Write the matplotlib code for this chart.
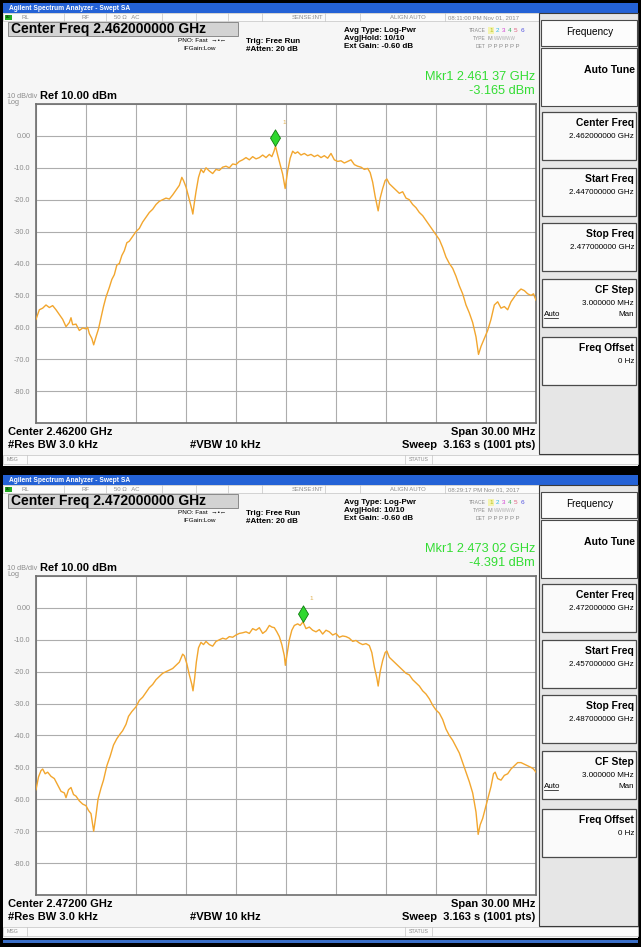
"""
Two Agilent swept-SA screenshots (2.462 / 2.472 GHz channels), stacked.
"""
import matplotlib
matplotlib.use("Agg")
import matplotlib.pyplot as plt
from matplotlib.patches import Rectangle
from matplotlib.path import Path
import numpy as np

plt.rcParams["font.family"] = ["Liberation Sans", "DejaVu Sans"]

W, H = 641, 947

# ----- trace 1 (center 2.462 GHz): offset from center in MHz, level in dBm -----
freq1_mhz = [
    -15.0, -14.8, -14.6, -14.4, -14.2, -14.0, -13.8, -13.6, -13.4, -13.2,
    -13.0, -12.9, -12.8, -12.6, -12.4, -12.2, -12.0, -11.9, -11.8, -11.65,
    -11.54, -11.4, -11.25, -11.1, -10.95, -10.8, -10.6, -10.45, -10.3, -10.15,
    -10.0, -9.85, -9.7, -9.55, -9.4, -9.2, -9.0, -8.8, -8.6, -8.4,
    -8.2, -8.0, -7.8, -7.6, -7.4, -7.2, -7.0, -6.8, -6.6, -6.4,
    -6.25, -6.15, -6.0, -5.8, -5.65, -5.59, -5.5, -5.4, -5.25, -5.1,
    -4.95, -4.8, -4.6, -4.4, -4.2, -4.0, -3.8, -3.6, -3.4, -3.2,
    -3.0, -2.8, -2.6, -2.4, -2.2, -2.0, -1.8, -1.6, -1.4, -1.2,
    -1.0, -0.85, -0.72, -0.63, -0.5, -0.35, -0.2, -0.05, 0.1, 0.25,
    0.4, 0.55, 0.7, 0.9, 1.1, 1.3, 1.5, 1.7, 1.9, 2.1,
    2.3, 2.5, 2.7, 2.9, 3.1, 3.3, 3.5, 3.7, 3.9, 4.1,
    4.3, 4.5, 4.7, 4.9, 5.05, 5.2, 5.35, 5.53, 5.65, 5.8,
    5.95, 6.05, 6.2, 6.4, 6.6, 6.8, 7.0, 7.2, 7.4, 7.6,
    7.8, 8.0, 8.2, 8.4, 8.6, 8.8, 9.0, 9.2, 9.4, 9.6,
    9.8, 10.0, 10.2, 10.4, 10.6, 10.8, 11.0, 11.2, 11.4, 11.55,
    11.7, 11.9, 12.1, 12.3, 12.5, 12.7, 12.9, 13.1, 13.3, 13.5,
    13.7, 13.9, 14.1, 14.3, 14.5, 14.7, 14.85, 15.0,
]
level1_dbm = [
    -57.5, -54.5, -54.0, -53.0, -53.8, -53.2, -54.5, -56.0, -57.5, -59.8,
    -58.5, -57.0, -59.2, -59.0, -61.0, -60.2, -60.5, -60.0, -62.0, -63.5,
    -65.5, -63.0, -60.5, -57.0, -53.5, -50.5, -47.5, -45.0, -43.5, -40.5,
    -40.0, -37.5, -36.0, -33.5, -33.0, -31.5, -30.0, -29.0, -27.0, -25.5,
    -24.0, -23.0, -21.5, -20.5, -20.0, -19.5, -19.8, -18.5, -17.0, -15.5,
    -13.0, -14.0, -16.0, -20.0, -23.0, -24.5, -21.0, -17.5, -13.0, -10.5,
    -11.5, -10.0, -11.0, -11.8, -10.5, -10.8, -9.8, -9.5, -10.0, -8.8,
    -9.0, -8.0, -7.5, -6.8, -7.5, -6.5, -7.2, -6.8, -6.0, -6.8,
    -5.8, -6.5, -4.8, -3.2, -6.0, -9.0, -12.0, -16.5, -11.0, -7.0,
    -4.8, -5.5, -5.0, -6.0, -5.5, -6.2, -5.8, -6.5, -6.0, -6.8,
    -6.2, -7.0, -5.5, -7.5, -8.0, -7.8, -8.5, -8.0, -7.5, -9.0,
    -9.5, -9.8, -10.5, -10.2, -11.5, -14.5, -19.0, -23.5, -19.5, -16.5,
    -14.0, -13.5, -15.0, -16.0, -17.0, -18.0, -17.5, -19.5, -20.0, -21.5,
    -22.5, -24.0, -25.0, -26.5, -28.0, -29.5, -31.0, -32.5, -35.0, -38.0,
    -40.0, -41.5, -44.0, -47.0, -49.5, -53.0, -55.5, -58.5, -63.0, -68.5,
    -66.0, -63.5, -61.0, -57.5, -53.0, -52.0, -54.0, -53.5, -54.5, -52.0,
    -50.5, -49.0, -48.0, -48.5, -49.5, -50.0, -49.5, -51.5,
]

# ----- trace 2 (center 2.472 GHz) -----
freq2_mhz = [
    -15.0, -14.85, -14.7, -14.6, -14.45, -14.3, -14.1, -13.9, -13.7, -13.5,
    -13.3, -13.2, -13.05, -12.9, -12.75, -12.6, -12.4, -12.2, -12.0, -11.85,
    -11.7, -11.54, -11.4, -11.28, -11.1, -10.95, -10.75, -10.55, -10.35, -10.15,
    -9.95, -9.8, -9.6, -9.45, -9.25, -9.0, -8.8, -8.6, -8.4, -8.2,
    -8.0, -7.8, -7.6, -7.4, -7.2, -7.0, -6.8, -6.6, -6.4, -6.2,
    -6.1, -5.95, -5.8, -5.65, -5.58, -5.48, -5.38, -5.25, -5.1, -4.95,
    -4.8, -4.6, -4.4, -4.2, -4.0, -3.8, -3.6, -3.4, -3.2, -3.0,
    -2.8, -2.6, -2.4, -2.2, -2.0, -1.8, -1.6, -1.4, -1.2, -1.0,
    -0.85, -0.7, -0.55, -0.4, -0.25, -0.1, -0.04, 0.05, 0.2, 0.35,
    0.5, 0.7, 0.85, 1.02, 1.2, 1.4, 1.6, 1.8, 2.0, 2.2,
    2.4, 2.6, 2.8, 3.0, 3.2, 3.4, 3.6, 3.8, 4.0, 4.2,
    4.4, 4.6, 4.8, 5.0, 5.15, 5.3, 5.45, 5.53, 5.65, 5.8,
    5.95, 6.05, 6.2, 6.4, 6.6, 6.8, 7.0, 7.2, 7.4, 7.6,
    7.8, 8.0, 8.2, 8.4, 8.6, 8.8, 9.0, 9.2, 9.4, 9.6,
    9.8, 10.0, 10.2, 10.4, 10.6, 10.8, 11.0, 11.2, 11.4, 11.53,
    11.65, 11.8, 11.95, 12.1, 12.3, 12.45, 12.55, 12.7, 12.9, 13.1,
    13.3, 13.5, 13.7, 13.9, 14.1, 14.3, 14.5, 14.7, 14.85, 15.0,
]
level2_dbm = [
    -57.0, -53.0, -51.0, -50.5, -52.0, -51.5, -52.8, -53.5, -55.5, -57.5,
    -58.0, -59.5, -57.0, -56.3, -58.5, -59.0, -60.5, -61.5, -62.0, -63.5,
    -64.5, -70.0, -65.0, -60.0, -56.5, -54.0, -49.5, -46.5, -43.0, -41.0,
    -39.5, -38.5, -36.5, -34.0, -32.5, -31.0, -29.0, -28.0, -26.5, -25.0,
    -24.0, -22.5, -21.5, -20.5, -20.0, -19.5, -19.0, -18.0, -17.0, -14.5,
    -15.0, -17.5, -21.0, -24.0, -26.0, -22.0, -17.0, -12.5, -10.8, -11.5,
    -10.5, -11.5, -12.0, -10.5, -10.0, -9.5, -9.8, -9.0, -9.2, -8.5,
    -8.0, -7.8, -7.5, -8.0, -6.5, -7.0, -6.2, -8.0, -7.2, -5.5,
    -6.0, -6.2, -7.5, -9.0, -11.5, -15.0, -18.0, -15.0, -10.0, -7.0,
    -5.5, -5.0, -5.5, -4.4, -6.5, -6.0, -7.0, -7.5, -6.8, -8.2,
    -7.0, -7.5, -8.5, -8.0, -9.2, -8.8, -9.0, -9.5, -10.5, -10.2,
    -11.0, -11.5, -11.2, -11.8, -14.0, -18.5, -22.0, -24.5, -20.0, -16.5,
    -14.0, -13.5, -15.5, -16.5, -17.5, -18.5, -19.5, -20.5, -21.0, -22.5,
    -23.5, -24.5, -26.0, -27.0, -28.5, -30.5, -32.0, -33.0, -35.0, -38.0,
    -40.0, -41.5, -43.5, -45.5, -48.5, -51.5, -54.5, -58.0, -64.0, -71.0,
    -68.0, -66.0, -63.0, -60.0, -56.0, -52.0, -51.5, -53.5, -54.0, -52.5,
    -52.0, -50.5, -49.5, -48.5, -48.5, -49.0, -49.5, -50.0, -50.5, -51.5,
]

# ----- instrument settings shown on each screen -----
center_ghz = [2.462, 2.472]
start_ghz = [2.447, 2.457]
stop_ghz = [2.477, 2.487]
mkr_ghz = [2.46137, 2.47302]
mkr_dbm = [-3.165, -4.391]
timestamps = ["08:11:00 PM Nov 01, 2017", "08:29:17 PM Nov 01, 2017"]
ref_dbm = 10.0
db_per_div = 10.0
span_mhz = 30.0
ytick_labels = ["0.00", "-10.0", "-20.0", "-30.0", "-40.0",
                "-50.0", "-60.0", "-70.0", "-80.0"]

traces = [(freq1_mhz, level1_dbm), (freq2_mhz, level2_dbm)]

TRACE_C = "#F2A62E"
GREEN = "#33DD33"
GRAY_T = "#8C8C8C"

fig = plt.figure(figsize=(W / 100, H / 100), dpi=100, facecolor="black")
bg = fig.add_axes([0, 0, 1, 1])
bg.set_xlim(0, W)
bg.set_ylim(H, 0)
bg.axis("off")


def rect(x0, y0, x1, y1, fc, ec="none", lw=0.0, z=1):
    bg.add_patch(Rectangle((x0, y0), x1 - x0, y1 - y0, facecolor=fc,
                           edgecolor=ec, linewidth=lw, zorder=z))


def txt(x, y, s, size, color="black", weight="normal", ha="left", z=5):
    bg.text(x, y, s, fontsize=size, color=color, fontweight=weight,
            ha=ha, va="center", zorder=z)


# tall diamond with its bottom tip at the marker point
diamond = Path([(0, 0), (0.6, 1), (0, 2), (-0.6, 1), (0, 0)],
               [Path.MOVETO, Path.LINETO, Path.LINETO, Path.LINETO,
                Path.CLOSEPOLY])


def screen(k, oy):
    cf = center_ghz[k]
    # window body + title bar
    rect(3, oy + 3, 638, oy + 466, "#F6F6F6")
    rect(3, oy + 3, 638, oy + 13, "#2462D6")
    txt(9, oy + 8, "Agilent Spectrum Analyzer - Swept SA", 4.8,
        color="white", weight="bold")

    # status row
    rect(3, oy + 13, 540, oy + 21, "#FBFBFB", ec="#C4C4C4", lw=0.5)
    for xs in (64, 106, 162, 196, 228, 262, 325, 360, 445):
        bg.plot([xs, xs], [oy + 13, oy + 21], color="#C4C4C4", lw=0.5,
                zorder=2)
    rect(5, oy + 14.5, 12, oy + 20, "#22AA22")
    txt(6, oy + 17.3, "LXI", 2.2, color="black")
    txt(22, oy + 17.3, "RL", 4.3, color=GRAY_T)
    txt(82, oy + 17.3, "RF", 4.3, color=GRAY_T)
    txt(114, oy + 17.3, "50 \u03a9   AC", 4.3, color=GRAY_T)
    txt(292, oy + 17.3, "SENSE:INT", 4.3, color=GRAY_T)
    txt(390, oy + 17.3, "ALIGN AUTO", 4.3, color=GRAY_T)
    txt(448, oy + 17.3, timestamps[k], 4.3, color=GRAY_T)

    # center freq banner
    rect(8, oy + 22, 238, oy + 36, "#D3D3D3", ec="#8A8A8A", lw=0.7)
    txt(11, oy + 29, f"Center Freq {cf:.9f} GHz", 10, weight="bold")
    txt(226, oy + 40, "PNO: Fast  \u2192\u2022\u2190", 4.6, ha="right")
    txt(183, oy + 48, "IFGain:Low", 4.6)
    txt(246, oy + 41, "Trig: Free Run", 5.8, weight="bold")
    txt(246, oy + 49, "#Atten: 20 dB", 5.8, weight="bold")
    txt(344, oy + 30, "Avg Type: Log-Pwr", 5.8, weight="bold")
    txt(344, oy + 38, "Avg|Hold: 10/10", 5.8, weight="bold")
    txt(344, oy + 46, "Ext Gain: -0.60 dB", 5.8, weight="bold")

    # trace / type / det block
    txt(486, oy + 30, "TRACE", 3.6, color=GRAY_T, ha="right")
    txt(486, oy + 38, "TYPE", 3.6, color=GRAY_T, ha="right")
    txt(486, oy + 46, "DET", 3.6, color=GRAY_T, ha="right")
    rect(487.5, oy + 26.5, 493.5, oy + 33.5, "#F4F4B0")
    tr_cols = ["#B8C020", "#30B8E0", "#D040D0", "#40B060", "#E06080", "#5050E0"]
    for i, c in enumerate(tr_cols):
        txt(489 + i * 6.3, oy + 30, str(i + 1), 4.6, color=c)
    txt(488, oy + 38, "M", 4.0, color=GRAY_T)
    txt(494, oy + 38, "WWWWW", 3.3, color="#B0B0B0")
    txt(488, oy + 46, "P P P P P P", 4.3, color=GRAY_T)

    # marker readout
    txt(535, oy + 77, f"Mkr1 {mkr_ghz[k]:.5f}"[:10] + " " +
        f"{mkr_ghz[k]:.5f}"[5:] + " GHz", 9.2, color=GREEN, ha="right")
    txt(535, oy + 91, f"{mkr_dbm[k]:.3f} dBm", 9.2, color=GREEN, ha="right")

    txt(7, oy + 96, f"{db_per_div:.0f} dB/div", 5.2, color=GRAY_T)
    txt(40, oy + 95.5, f"Ref {ref_dbm:.2f} dBm", 8, weight="bold")
    txt(7, oy + 102.5, "Log", 5.2, color=GRAY_T)

    # ---- spectrum plot ----
    x0, y0, x1, y1 = 36, oy + 104, 536, oy + 423
    ax = fig.add_axes([x0 / W, 1 - y1 / H, (x1 - x0) / W, (y1 - y0) / H])
    ax.set_facecolor("white")
    half = span_mhz / 2000.0
    ax.set_xlim(cf - half, cf + half)
    bottom = ref_dbm - 10 * db_per_div
    ax.set_ylim(bottom, ref_dbm)
    yt = np.arange(ref_dbm, bottom - 0.1, -db_per_div)
    ax.set_yticks(yt)
    ax.set_yticklabels([""] + ytick_labels + [""])
    ax.set_xticks(np.linspace(cf - half, cf + half, 11))
    ax.set_xticklabels([])
    ax.tick_params(length=0, labelsize=5.2, labelcolor=GRAY_T, pad=4)
    ax.grid(True, color="#ADADAD", linewidth=0.8)
    ax.set_axisbelow(True)
    for sp in ax.spines.values():
        sp.set_color("#6E6E6E")
        sp.set_linewidth(1.2)

    f_mhz, lev = traces[k]
    fx = cf + np.asarray(f_mhz) / 1000.0
    ax.plot(fx, lev, color=TRACE_C, linewidth=1.0, zorder=3)
    ax.plot([mkr_ghz[k]], [mkr_dbm[k]], marker=diamond, markersize=24,
            markerfacecolor="#2ED82E", markeredgecolor="#0E7A0E",
            markeredgewidth=0.6, linestyle="none", zorder=4)
    ax.annotate("1", (mkr_ghz[k], mkr_dbm[k]), xytext=(5, 16),
                textcoords="offset points", fontsize=4.6, color="#E0B050",
                zorder=5)

    # footer
    txt(8, oy + 432, f"Center {cf:.5f} GHz", 8, weight="bold")
    txt(535, oy + 432, f"Span {span_mhz:.2f} MHz", 8, weight="bold", ha="right")
    txt(8, oy + 445, "#Res BW 3.0 kHz", 8, weight="bold")
    txt(190, oy + 445, "#VBW 10 kHz", 8, weight="bold")
    txt(535, oy + 445, "Sweep  3.163 s (1001 pts)", 8, weight="bold",
        ha="right")

    # message row
    rect(3, oy + 455, 638, oy + 464, "#FBFBFB", ec="#C4C4C4", lw=0.5)
    bg.plot([27, 27], [oy + 455, oy + 464], color="#C4C4C4", lw=0.5, zorder=2)
    bg.plot([405, 405], [oy + 455, oy + 464], color="#C4C4C4", lw=0.5, zorder=2)
    bg.plot([432, 432], [oy + 455, oy + 464], color="#C4C4C4", lw=0.5, zorder=2)
    txt(7, oy + 459.5, "MSG", 3.8, color=GRAY_T)
    txt(409, oy + 459.5, "STATUS", 3.8, color=GRAY_T)

    # ---- softkey panel ----
    rect(539, oy + 13, 638, oy + 454, "#E6E6E6", ec="#3A3A3A", lw=0.8)
    rect(541, oy + 20, 637, oy + 46, "#FCFCFC", ec="#4A4A4A", lw=0.8)
    txt(590, oy + 32, "Frequency", 7.2, ha="center")
    rect(541, oy + 48, 637, oy + 106, "#FCFCFC", ec="#4A4A4A", lw=0.8)
    txt(635, oy + 70, "Auto Tune", 7.6, weight="bold", ha="right")

    keys = [("Center Freq", f"{cf:.9f} GHz"),
            ("Start Freq", f"{start_ghz[k]:.9f} GHz"),
            ("Stop Freq", f"{stop_ghz[k]:.9f} GHz"),
            ("CF Step", "3.000000 MHz"),
            ("Freq Offset", "0 Hz")]
    tops = [112, 168, 223, 279, 337]
    for (lab, val), t in zip(keys, tops):
        rect(542, oy + t, 636, oy + t + 48, "#FAFAFA", ec="#4A4A4A", lw=0.9)
        txt(634, oy + t + 11, lab, 7.4, weight="bold", ha="right")
        txt(634, oy + t + 24, val, 5.8, ha="right")
    txt(544, oy + tops[3] + 35, "Auto", 5.8)
    bg.plot([544, 558], [oy + tops[3] + 39, oy + tops[3] + 39], color="black",
            lw=0.5, zorder=6)
    txt(634, oy + tops[3] + 35, "Man", 5.8, ha="right")


screen(0, 0)
screen(1, 472)
rect(3, 940, 638, 943, "#3A6FC8")

fig.savefig("out.png", dpi=100, facecolor="black")
